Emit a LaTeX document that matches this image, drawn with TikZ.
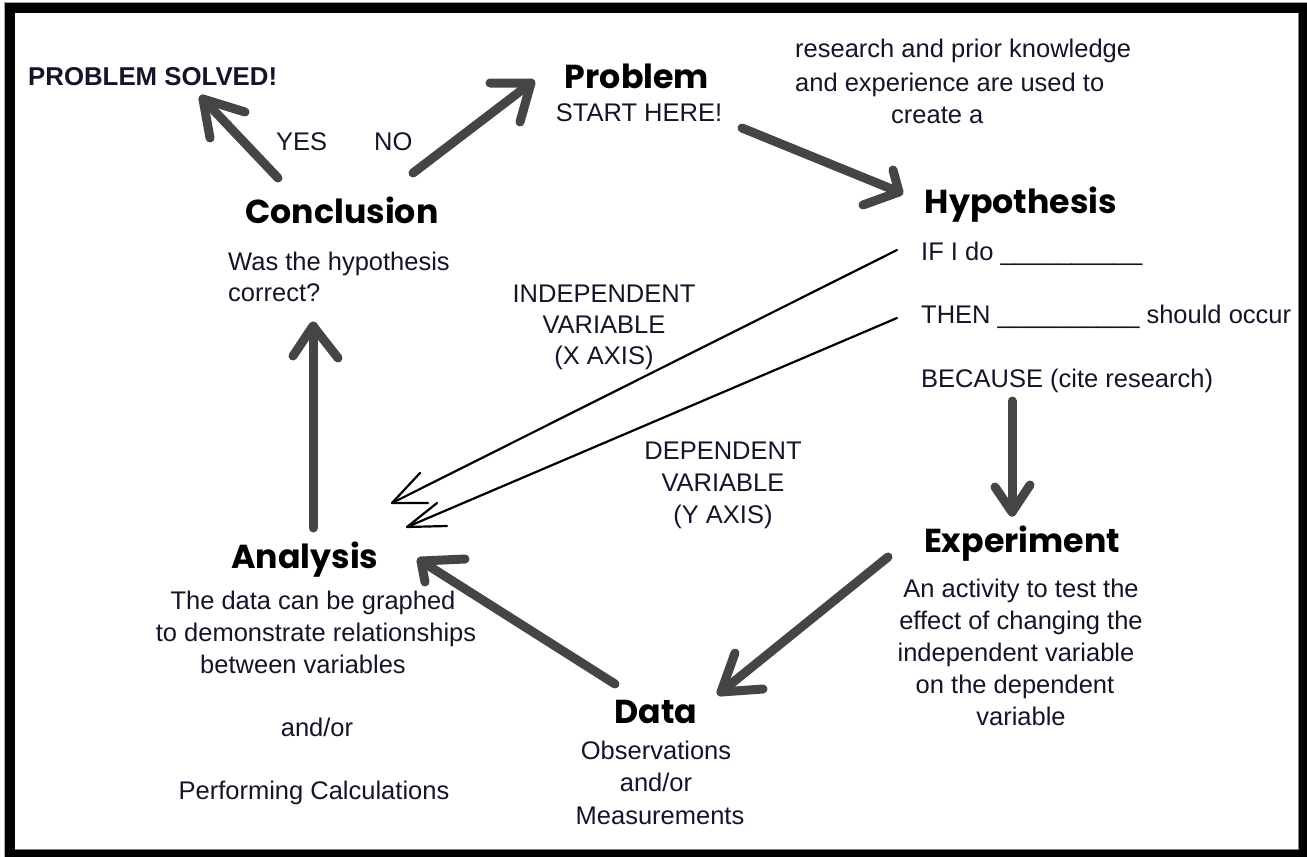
\documentclass[tikz,border=0pt]{standalone}
\usepackage{fontspec}
\setmainfont{Liberation Sans}
\newfontfamily\titlefont{Poppins}
\usetikzlibrary{calc}
\definecolor{arrowgray}{HTML}{454545}
\definecolor{txt}{HTML}{15152a}
\tikzset{
  body/.style={font=\fontsize{25.5}{32}\selectfont, text=txt, inner sep=0pt, align=center},
  bodyl/.style={body, anchor=base west},
  bodyc/.style={body, anchor=base},
  ttl/.style={font=\titlefont\bfseries\fontsize{33.2}{37}\selectfont, text=black, inner sep=0pt, anchor=base},
  bigarrow/.style={draw=arrowgray, line width=9pt, line cap=round, line join=round},
  thinarrow/.style={draw=black, line width=2.2pt, line cap=round, line join=round}
}
\begin{document}
\begin{tikzpicture}[x=1pt,y=-1pt]
\useasboundingbox (0,0) rectangle (1307,857);
% frame
\fill[black] (5,3) rectangle (1307,857);
\fill[white] (15,13) rectangle (1298,849);
\draw[gray, line width=1pt] (1298,13) -- (1298,849) -- (15,849);
\draw[gray!70, line width=1pt] (4,857) -- (4,2) -- (1307,2);

% titles
\node[ttl] (problem) at (637,88) {Problem};
\node[ttl] (hyp) at (1021,213) {Hypothesis};
\node[ttl] (exp) at (1022,552) {Experiment};
\node[ttl] (data) at (656,723) {Data};
\node[ttl] (anal) at (305,568) {Analysis};
\node[ttl] (concl) at (342,223) {Conclusion};

% texts
\node[body, anchor=base west, font=\bfseries\fontsize{25.8}{30}\selectfont] (solved) at (28,85) {PROBLEM SOLVED!};
\node[bodyc] (start) at (639,121) {START HERE!};
\node[bodyl] (yes) at (276,150) {YES};
\node[bodyl] (no) at (374,150) {NO};
\node[bodyl] (r1) at (795,57) {research and prior knowledge};
\node[bodyl] (r2) at (795,91) {and experience are used to};
\node[bodyl] (r3) at (891,123) {create a};
\node[bodyl] (was1) at (228,270) {Was the hypothesis};
\node[bodyl] (was2) at (228,301) {correct?};
\node[bodyl] (ifdo) at (921,260) {IF I do \_\_\_\_\_\_\_\_\_\_};
\node[bodyl] (then) at (921,323) {THEN \_\_\_\_\_\_\_\_\_\_ should occur};
\node[bodyl] (because) at (921,387) {BECAUSE (cite research)};
\node[bodyc] (ind1) at (604,302) {INDEPENDENT};
\node[bodyc] (ind2) at (604,333) {VARIABLE};
\node[bodyc] (ind3) at (604,364) {(X AXIS)};
\node[bodyc] (dep1) at (723,459) {DEPENDENT};
\node[bodyc] (dep2) at (723,491) {VARIABLE};
\node[bodyc] (dep3) at (723,523) {(Y AXIS)};
\node[bodyc] (e1) at (1021,597) {An activity to test the};
\node[bodyc] (e2) at (1021,629) {effect of changing the};
\node[bodyc] (e3) at (1016,661) {independent variable};
\node[bodyc] (e4) at (1015,693) {on the dependent};
\node[bodyc] (e5) at (1021,725) {variable};
\node[bodyc] (d1) at (656,759) {Observations};
\node[bodyc] (d2) at (656,791) {and/or};
\node[bodyc] (d3) at (660,824) {Measurements};
\node[bodyc] (a1) at (313,609) {The data can be graphed};
\node[bodyc] (a2) at (316,641) {to demonstrate relationships};
\node[bodyc] (a3) at (303,673) {between variables};
\node[bodyc] (a4) at (317,736) {and/or};
\node[bodyc] (a5) at (314,799) {Performing Calculations};

% big arrow endpoints
\coordinate (c1s) at (278,178); \coordinate (c1t) at (203,99);
\coordinate (c2s) at (413,173); \coordinate (c2t) at (531,83);
\coordinate (c3s) at (742,128); \coordinate (c3t) at (899,192);
\coordinate (c4s) at (1012,401); \coordinate (c4t) at (1012,512);
\coordinate (c5s) at (888,557); \coordinate (c5t) at (721,692);
\coordinate (c6s) at (615,684); \coordinate (c6t) at (421,561);
\coordinate (c7s) at (313,528); \coordinate (c7t) at (313,326);

\draw[bigarrow] (c1s) -- (c1t);
\draw[bigarrow] (c1t) ++(42,13) -- (c1t) -- ++(7,39);
\draw[bigarrow] (c2s) -- (c2t);
\draw[bigarrow] (c2t) ++(-41,0) -- (c2t) -- ++(-11,39);
\draw[bigarrow] (c3s) -- (c3t);
\draw[bigarrow] (c3t) ++(-6,-22) -- (c3t) -- ++(-36,13);
\draw[bigarrow] (c4s) -- (c4t);
\draw[bigarrow] (c4t) ++(-17,-25) -- (c4t) -- ++(18,-27);
\draw[bigarrow] (c5s) -- (c5t);
\draw[bigarrow] (c5t) ++(14,-39) -- (c5t) -- ++(42,-3);
\draw[bigarrow] (c6s) -- (c6t);
\draw[bigarrow] (c6t) ++(44,-2) -- (c6t) -- ++(4,21);
\draw[bigarrow] (c7s) -- (c7t);
\draw[bigarrow] (c7t) ++(-20,30) -- (c7t) -- ++(25,32);

% thin arrows
\coordinate (tas) at (897,250); \coordinate (tat) at (392,503);
\coordinate (tbs) at (897,318); \coordinate (tbt) at (407,527);
\draw[thinarrow] (tas) -- (tat);
\draw[thinarrow] (tat) ++(28,-30) -- (tat) -- ++(36,0);
\draw[thinarrow] (tbs) -- (tbt);
\draw[thinarrow] (tbt) ++(30,-24) -- (tbt) -- ++(40,-1);
\end{tikzpicture}
\end{document}
